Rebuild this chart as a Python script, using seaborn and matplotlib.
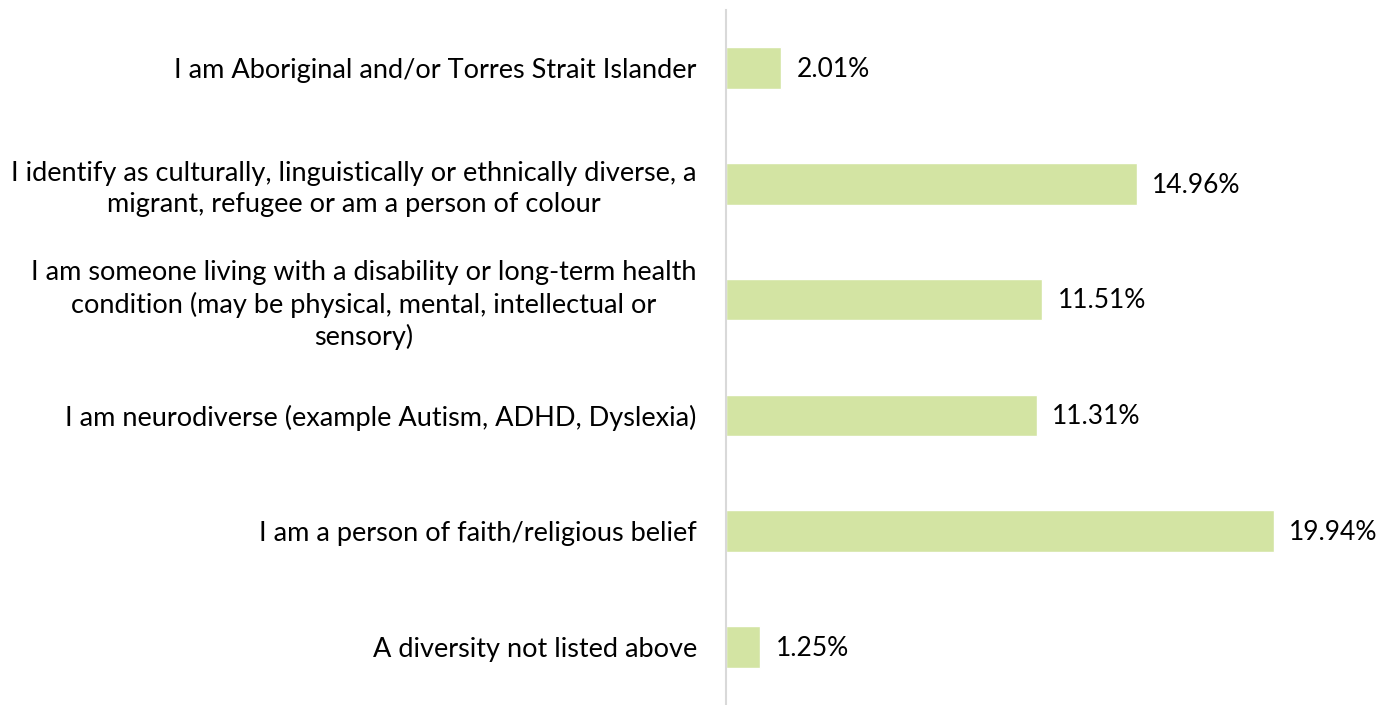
import matplotlib
matplotlib.use("Agg")
import matplotlib.pyplot as plt
import seaborn as sns
import pandas as pd

categories = [
    "I am Aboriginal and/or Torres Strait Islander",
    "I identify as culturally, linguistically or ethnically diverse, a\nmigrant, refugee or am a person of colour",
    "I am someone living with a disability or long-term health\ncondition (may be physical, mental, intellectual or\nsensory)",
    "I am neurodiverse (example Autism, ADHD, Dyslexia)",
    "I am a person of faith/religious belief",
    "A diversity not listed above",
]
values = [2.01, 14.96, 11.51, 11.31, 19.94, 1.25]

df = pd.DataFrame({"category": categories, "value": values})

sns.set_theme(style="white")
plt.rcParams["font.family"] = ["Lato", "DejaVu Sans"]

fig = plt.figure(figsize=(13.94, 7.05), dpi=100)
ax = fig.add_axes([726 / 1394, 0.0, 1 - 726 / 1394, 695 / 705])

sns.barplot(data=df, x="value", y="category", orient="h", color="#D3E4A3",
            saturation=1, width=0.36, ax=ax)

ax.set_xlim(0, (1394 - 726) / 27.48)
ax.set_ylim(5.5, -0.5)
ax.set_xlabel("")
ax.set_ylabel("")
ax.set_xticks([])

for s in ["top", "right", "bottom"]:
    ax.spines[s].set_visible(False)
ax.spines["left"].set_color("#D9D9D9")
ax.spines["left"].set_linewidth(1.5)

ax.tick_params(axis="y", length=0, pad=21, labelsize=19.5, labelcolor="#000000")
for lbl in ax.get_yticklabels():
    lbl.set_multialignment("center")
    lbl.set_linespacing(1.3)

for i, v in enumerate(values):
    ax.annotate(f"{v:.2f}%", xy=(v, i), xytext=(11, -1), textcoords="offset points",
                va="center", ha="left", fontsize=19, color="#000000")

fig.savefig("out.png", dpi=100, facecolor="white")
